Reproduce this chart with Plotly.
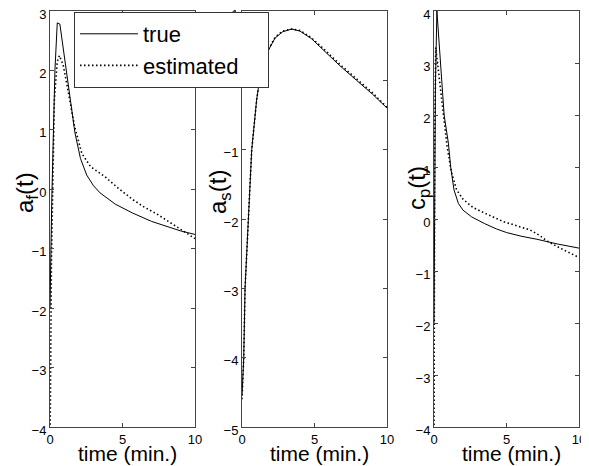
import plotly.graph_objects as go

# ---------------- data ----------------
x_ticks = [0, 5, 10]

# panel 1 : a_f(t)
af_true_t = [0, 0.12, 0.34, 0.5, 0.68, 0.9, 1.15, 1.45, 1.72, 2.1, 2.53, 3.0, 3.45, 4.5, 5.7, 7.0, 8.05, 9.0, 10]
af_true_v = [-2.0, -0.2, 2.0, 2.8, 2.78, 2.4, 2.0, 1.5, 0.95, 0.52, 0.24, 0.06, -0.06, -0.25, -0.40, -0.54, -0.63, -0.70, -0.76]
af_est_t = [0, 0.1, 0.3, 0.5, 0.65, 0.9, 1.1, 1.38, 1.7, 2.2, 2.8, 3.8, 4.7, 5.75, 6.5, 7.4, 8.5, 9.3, 10]
af_est_v = [-4.5, -1.2, 1.5, 2.15, 2.25, 2.1, 1.85, 1.5, 1.05, 0.6, 0.38, 0.21, 0.02, -0.18, -0.3, -0.42, -0.6, -0.72, -0.83]

# panel 2 : a_s(t)
as_true_t = [0, 0.12, 0.21, 0.43, 0.67, 1.01, 1.24, 1.6, 2.28, 2.8, 3.43, 4.0, 4.8, 5.6, 6.7, 7.9, 9.0, 10]
as_true_v = [-4.55, -4.0, -3.0, -1.99, -1.0, -0.28, 0.05, 0.35, 0.61, 0.70, 0.74, 0.71, 0.60, 0.44, 0.22, 0.0, -0.2, -0.40]
as_est_t = [0, 0.12, 0.21, 0.43, 0.67, 1.01, 1.24, 1.6, 2.28, 2.8, 3.43, 4.0, 4.8, 5.6, 6.7, 7.9, 9.0, 10]
as_est_v = [-4.6, -4.0, -3.0, -2.0, -1.0, -0.28, 0.05, 0.36, 0.62, 0.71, 0.74, 0.72, 0.61, 0.46, 0.24, 0.02, -0.18, -0.39]

# panel 3 : c_p(t)
cp_true_t = [0, 0.1, 0.2, 0.45, 0.7, 0.99, 1.15, 1.38, 1.68, 2.0, 2.6, 3.5, 4.3, 5.0, 6.0, 7.1, 8.5, 10]
cp_true_v = [-2.0, 2.6, 4.0, 3.0, 2.0, 1.46, 1.0, 0.56, 0.30, 0.17, 0.04, -0.09, -0.19, -0.26, -0.33, -0.39, -0.48, -0.56]
cp_est_t = [0, 0.05, 0.12, 0.35, 0.62, 0.9, 1.2, 1.56, 2.0, 2.7, 3.75, 4.78, 5.7, 6.62, 7.3, 7.77, 8.7, 9.72, 10]
cp_est_v = [-4.5, 1.5, 3.3, 2.7, 2.0, 1.4, 0.9, 0.56, 0.38, 0.22, 0.08, -0.05, -0.13, -0.21, -0.32, -0.42, -0.56, -0.70, -0.74]

y_ranges = [[-4, 3], [-5, 1], [-4, 4]]
y_titles = ["a<sub>f</sub>(t)", "a<sub>s</sub>(t)", "c<sub>p</sub>(t)"]
x_title = "time (min.)"
legend_names = ["true", "estimated\u00a0\u00a0\u00a0\u00a0"]

# ---------------- layout geometry ----------------
OFF = 8                      # page body margin of the html page
W, H = 589 - OFF, 466 - OFF  # figure size so the page does not overflow
def px(x):
    return (x - OFF) / W
def py(y):
    return 1 - (y - OFF) / H

x_px = [(50, 195), (242, 387), (434, 579)]
y_px = (11, 427)
ydom = [py(y_px[1]), py(y_px[0])]
FONT = "Liberation Sans, Arial, Helvetica, sans-serif"

fig = go.Figure()

series = [(af_true_t, af_true_v, af_est_t, af_est_v),
          (as_true_t, as_true_v, as_est_t, as_est_v),
          (cp_true_t, cp_true_v, cp_est_t, cp_est_v)]

for i, (tt, tv, et, ev) in enumerate(series):
    xa = "x" if i == 0 else f"x{i+1}"
    ya = "y" if i == 0 else f"y{i+1}"
    fig.add_trace(go.Scatter(x=tt, y=tv, mode="lines", xaxis=xa, yaxis=ya,
                             line=dict(color="black", width=1),
                             name=legend_names[0], showlegend=(i == 0)))
    fig.add_trace(go.Scatter(x=et, y=ev, mode="lines", xaxis=xa, yaxis=ya,
                             line=dict(color="black", width=1.6, dash="1.5px,2.5px"),
                             name=legend_names[1], showlegend=(i == 0)))

axis_common = dict(showgrid=False, zeroline=False, showline=True, linecolor="#444",
                   linewidth=1, mirror="ticks", ticks="inside", ticklen=4,
                   tickcolor="#444", tickfont=dict(family=FONT, size=13, color="black"),
                   ticklabeloverflow="allow", automargin=False)

layout = dict(
    width=W, height=H, margin=dict(l=0, r=0, t=0, b=0),
    plot_bgcolor="white", paper_bgcolor="white",
    font=dict(family=FONT, color="black"),
    showlegend=True,
    legend=dict(x=px(74), y=py(12), xanchor="left", yanchor="top",
                bgcolor="white", bordercolor="#333", borderwidth=1,
                font=dict(family=FONT, size=22, color="black"),
                itemwidth=58, tracegroupgap=0),
)

annotations = []
for i in range(3):
    sx = "" if i == 0 else str(i + 1)
    layout["xaxis" + sx] = dict(axis_common, domain=[px(x_px[i][0]), px(x_px[i][1])],
                                range=[0, 10], tickvals=x_ticks,
                                anchor="y" + sx)
    r = y_ranges[i]
    layout["yaxis" + sx] = dict(axis_common, domain=ydom, range=r,
                                tickvals=list(range(r[0], r[1] + 1)),
                                ticklabelshift=3,
                                anchor="x" + sx)
    cx = (x_px[i][0] + x_px[i][1]) / 2 + 5
    annotations.append(dict(text=x_title, xref="paper", yref="paper",
                            x=px(cx), y=py(453), xanchor="center", yanchor="middle",
                            showarrow=False, font=dict(family=FONT, size=21, color="black")))

ytitle_pos = [(26, 193), (219, 192), (418, 188)]
for i, (tx, ty) in enumerate(ytitle_pos):
    annotations.append(dict(text=y_titles[i], xref="paper", yref="paper",
                            x=px(tx), y=py(ty), xanchor="center", yanchor="middle",
                            textangle=-90, showarrow=False,
                            font=dict(family=FONT, size=24, color="black")))

layout["annotations"] = annotations
fig.update_layout(**layout)

fig.write_html("out.html")
